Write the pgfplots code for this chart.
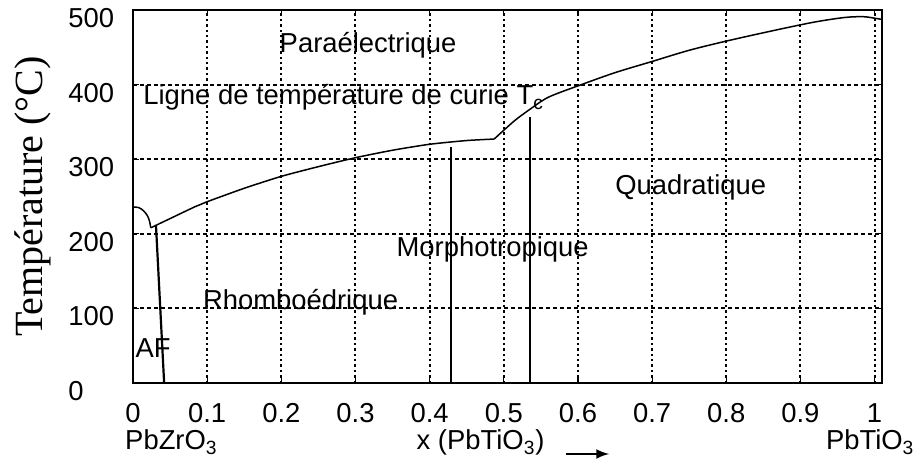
\documentclass[border=0pt]{standalone}
\usepackage{pgfplots}
\pgfplotsset{compat=1.18}
\usepackage{fontspec}
\setmainfont{Liberation Sans}
\newfontfamily\serifont{Liberation Serif}
\usetikzlibrary{calc}

\newcommand{\lab}{\fontsize{13.7}{16.4}\selectfont}

\begin{document}
\begin{tikzpicture}
\begin{axis}[
  name=ax,
  scale only axis,
  width=374.5pt, height=186.5pt,
  xmin=0, xmax=1.01, ymin=0, ymax=500,
  xtick={0,0.1,0.2,0.3,0.4,0.5,0.6,0.7,0.8,0.9,1},
  xticklabels={0,0.1,0.2,0.3,0.4,0.5,0.6,0.7,0.8,0.9,1},
  ytick={0,100,200,300,400,500},
  grid=major,
  x grid style={black, line width=1pt, dash pattern=on 1.2pt off 1.5pt},
  y grid style={black, line width=1pt, dash pattern=on 2.2pt off 1.3pt},
  axis line style={line width=1.2pt},
  tick style={black, line width=0.6pt},
  major tick length=3pt,
  tick align=inside,
  /pgf/number format/assume math mode=true,
  xticklabel style={font=\lab, inner sep=0pt, yshift=-10pt},
  yticklabel style={font=\lab, anchor=west, inner sep=0pt, xshift=-32.5pt, yshift=-4pt},
  ylabel={Température (°C)},
  ylabel style={font=\serifont\fontsize{20}{24}\selectfont, at={(rel axis cs:0,0.5)}, anchor=center, yshift=50pt},
  clip mode=individual,
  every axis plot/.append style={black, no markers},
]
% ligne de Curie, branche PbZrO3
\addplot[line width=0.75pt, smooth] coordinates {
  (0,236) (0.008,235) (0.014,231) (0.019,225) (0.022,218) (0.024,208)
};
\addplot[line width=0.75pt, smooth, tension=0.4] coordinates {
  (0.024,208) (0.083,236) (0.1,243) (0.15,261) (0.2,277) (0.25,290)
  (0.3,302) (0.35,312) (0.4,320) (0.45,325) (0.487,327)
};
\addplot[line width=0.75pt, smooth, tension=0.5] coordinates {
  (0.487,327) (0.498,337) (0.515,352) (0.534,366) (0.56,383) (0.602,399)
  (0.65,416) (0.7,431) (0.75,446) (0.803,459) (0.871,474) (0.92,484)
  (0.96,490) (0.985,491) (1.0,489) (1.012,487)
};
% frontieres de phases
\addplot[line width=1.1pt] coordinates {(0.031,211) (0.042,0)};
\addplot[line width=1.1pt] coordinates {(0.429,317) (0.429,0)};
\addplot[line width=1.1pt] coordinates {(0.535,357) (0.535,0)};

\node[font=\lab, anchor=base] at (axis cs:0.317,443) {Paraélectrique};
\node[font=\lab, anchor=base west, inner sep=0pt] at (axis cs:0.0135,373) {Ligne de température de curie T\textsubscript{c}};
\node[font=\lab, anchor=base] at (axis cs:0.752,252) {Quadratique};
\node[font=\lab, anchor=base west, inner sep=0pt] at (axis cs:0.355,169) {Morphotropique};
\node[font=\lab, anchor=base west, inner sep=0pt] at (axis cs:0.094,98) {Rhomboédrique};
\node[font=\lab, anchor=base west, inner sep=0pt] at (axis cs:0.003,33.5) {AF};

\node[font=\lab, anchor=base west, inner sep=0pt, yshift=-33.5pt] at (axis cs:-0.011,0) {PbZrO\textsubscript{3}};
\node[font=\lab, anchor=base west, inner sep=0pt, yshift=-33.5pt] at (axis cs:0.382,0) {x (PbTiO\textsubscript{3})};
\node[font=\lab, anchor=base west, inner sep=0pt, yshift=-33.5pt] at (axis cs:0.934,0) {PbTiO\textsubscript{3}};
\draw[-latex, line width=1.2pt] ([yshift=-35.5pt]axis cs:0.584,0) -- ([yshift=-35.5pt]axis cs:0.642,0);
\end{axis}
\path ($(ax.south west)+(-66.5pt,-39pt)$) rectangle ($(ax.north east)+(19pt,5pt)$);
\end{tikzpicture}
\end{document}
